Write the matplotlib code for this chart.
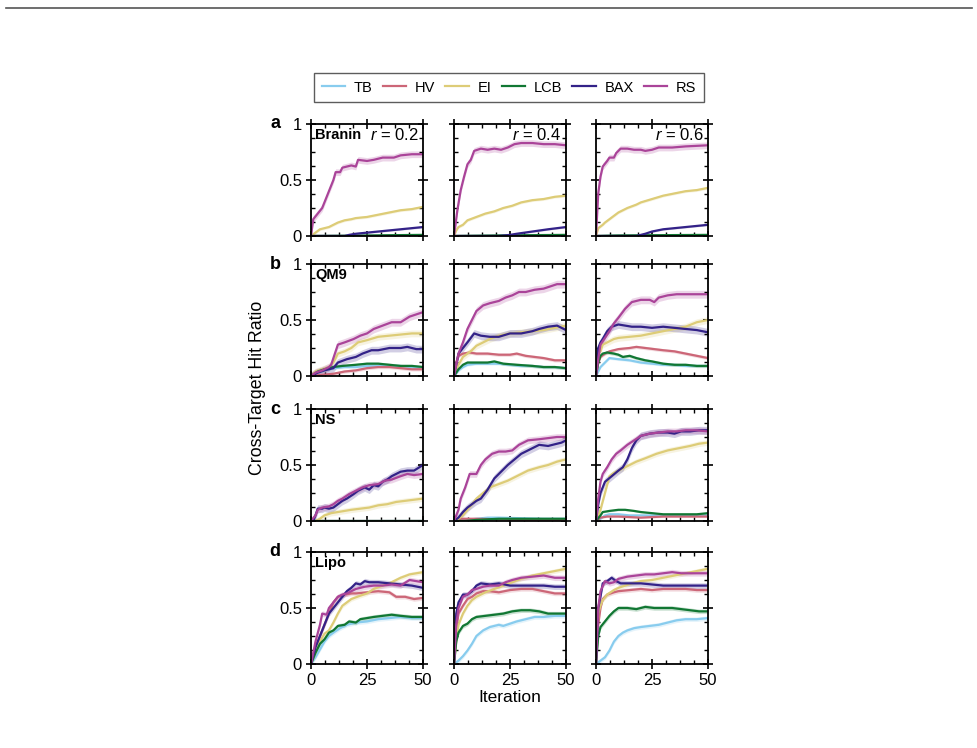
import matplotlib
matplotlib.use("Agg")
import matplotlib.pyplot as plt
from matplotlib.ticker import AutoMinorLocator
from matplotlib.lines import Line2D

plt.rcParams["font.family"] = ["Liberation Sans", "DejaVu Sans"]
plt.rcParams["mathtext.fontset"] = "custom"
plt.rcParams["mathtext.rm"] = "Liberation Sans"
plt.rcParams["mathtext.it"] = "Liberation Sans:italic"

methods = ["TB", "HV", "EI", "LCB", "BAX", "RS"]
colors = ["#88CCEE", "#CC6677", "#DDCC77", "#117733", "#332288", "#AA4499"]
datasets = ["Branin", "QM9", "NS", "Lipo"]
panel_letters = ["a", "b", "c", "d"]
ratios = ["0.2", "0.4", "0.6"]

# (iteration, hit ratio) points
branin_02 = {
    "TB": [(0, 0), (50, 0)],
    "HV": [(0, 0), (50, 0)],
    "EI": [(0, 0), (2, 0.03), (4, 0.06), (6, 0.07), (8, 0.08), (10, 0.1), (12, 0.12), (15, 0.14), (18, 0.15),
           (20, 0.16), (25, 0.17), (30, 0.19), (35, 0.21), (40, 0.23), (45, 0.24), (50, 0.26)],
    "LCB": [(0, 0), (20, 0.003), (35, 0.007), (50, 0.01)],
    "BAX": [(0, 0), (15, 0), (17, 0.01), (20, 0.02), (25, 0.03), (30, 0.04), (35, 0.05), (40, 0.06),
            (45, 0.07), (50, 0.08)],
    "RS": [(0, 0), (1, 0.15), (3, 0.2), (5, 0.25), (6, 0.3), (8, 0.4), (10, 0.5), (11, 0.57), (13, 0.57),
           (14, 0.61), (16, 0.62), (18, 0.63), (20, 0.62), (21, 0.68), (25, 0.67), (28, 0.68), (32, 0.7),
           (37, 0.7), (40, 0.72), (45, 0.73), (50, 0.73)],
}
branin_04 = {
    "TB": [(0, 0), (50, 0)],
    "HV": [(0, 0), (50, 0)],
    "EI": [(0, 0), (1, 0.05), (2, 0.08), (4, 0.1), (6, 0.14), (10, 0.17), (14, 0.2), (18, 0.22), (22, 0.25),
           (26, 0.27), (30, 0.3), (35, 0.32), (40, 0.33), (45, 0.35), (50, 0.36)],
    "LCB": [(0, 0), (20, 0.005), (50, 0.01)],
    "BAX": [(0, 0), (20, 0), (25, 0.01), (28, 0.02), (35, 0.04), (42, 0.06), (50, 0.08)],
    "RS": [(0, 0), (1.5, 0.23), (3, 0.41), (4.5, 0.53), (6, 0.64), (7.5, 0.68), (9, 0.76), (12, 0.78),
           (15, 0.77), (18, 0.78), (21, 0.77), (24, 0.79), (27, 0.82), (30, 0.83), (35, 0.83), (40, 0.82),
           (45, 0.82), (50, 0.81)],
}
branin_06 = {
    "TB": [(0, 0), (50, 0)],
    "HV": [(0, 0), (50, 0)],
    "EI": [(0, 0), (1, 0.07), (3, 0.1), (4, 0.12), (6, 0.15), (8, 0.18), (10, 0.21), (14, 0.25), (18, 0.28),
           (20, 0.3), (25, 0.33), (30, 0.36), (35, 0.38), (40, 0.4), (45, 0.41), (50, 0.43)],
    "LCB": [(0, 0), (10, 0.005), (50, 0.01)],
    "BAX": [(0, 0), (18, 0), (22, 0.02), (25, 0.04), (30, 0.06), (35, 0.07), (40, 0.08), (45, 0.09), (50, 0.1)],
    "RS": [(0, 0), (1, 0.38), (2, 0.53), (3, 0.62), (5, 0.67), (6, 0.7), (8, 0.7), (9, 0.74), (11, 0.78),
           (14, 0.78), (17, 0.77), (20, 0.77), (22, 0.76), (25, 0.77), (28, 0.79), (34, 0.79), (40, 0.8),
           (50, 0.81)],
}

qm9_02 = {
    "TB": [(0, 0), (3, 0.03), (6, 0.05), (10, 0.07), (15, 0.08), (20, 0.08), (25, 0.09), (30, 0.09), (35, 0.09),
           (40, 0.09), (45, 0.08), (50, 0.08)],
    "HV": [(0, 0), (5, 0.01), (10, 0.02), (15, 0.04), (20, 0.05), (25, 0.07), (30, 0.08), (35, 0.08),
           (40, 0.07), (45, 0.06), (50, 0.06)],
    "EI": [(0, 0), (2, 0.04), (5, 0.06), (8, 0.08), (10, 0.12), (12, 0.2), (15, 0.22), (18, 0.25), (21, 0.3),
           (25, 0.32), (30, 0.35), (35, 0.36), (40, 0.37), (45, 0.38), (50, 0.38)],
    "LCB": [(0, 0), (3, 0.04), (6, 0.06), (10, 0.08), (14, 0.09), (20, 0.1), (25, 0.11), (30, 0.11),
            (35, 0.1), (40, 0.09), (45, 0.09), (50, 0.08)],
    "BAX": [(0, 0), (3, 0.03), (6, 0.05), (10, 0.07), (12, 0.12), (16, 0.15), (20, 0.17), (23, 0.2),
            (27, 0.23), (30, 0.23), (35, 0.25), (40, 0.25), (43, 0.26), (47, 0.24), (50, 0.24)],
    "RS": [(0, 0), (2, 0.03), (5, 0.05), (8, 0.08), (9, 0.1), (12, 0.28), (15, 0.3), (19, 0.33), (22, 0.36),
           (25, 0.38), (28, 0.42), (32, 0.45), (36, 0.48), (40, 0.48), (44, 0.53), (47, 0.55), (50, 0.57)],
}
qm9_04 = {
    "TB": [(0, 0), (2, 0.05), (4, 0.08), (6, 0.1), (10, 0.11), (15, 0.11), (20, 0.11), (25, 0.1), (30, 0.09),
           (35, 0.09), (40, 0.08), (45, 0.08), (50, 0.07)],
    "HV": [(0, 0), (1, 0.12), (2, 0.18), (4, 0.2), (7, 0.21), (10, 0.2), (15, 0.2), (20, 0.19), (25, 0.19),
           (28, 0.2), (32, 0.18), (36, 0.17), (40, 0.16), (45, 0.14), (50, 0.14)],
    "EI": [(0, 0), (2, 0.1), (4, 0.17), (6, 0.2), (8, 0.23), (10, 0.27), (13, 0.3), (16, 0.33), (20, 0.36),
           (25, 0.38), (30, 0.39), (35, 0.4), (40, 0.41), (45, 0.43), (50, 0.45)],
    "LCB": [(0, 0), (2, 0.06), (4, 0.1), (6, 0.12), (10, 0.12), (15, 0.12), (18, 0.13), (22, 0.11),
            (28, 0.1), (35, 0.09), (40, 0.08), (45, 0.08), (50, 0.07)],
    "BAX": [(0, 0), (1, 0.1), (2, 0.2), (4, 0.25), (6, 0.3), (9, 0.38), (12, 0.36), (16, 0.35), (20, 0.35),
            (25, 0.38), (30, 0.38), (35, 0.4), (38, 0.42), (42, 0.44), (46, 0.45), (50, 0.41)],
    "RS": [(0, 0), (1, 0.1), (2, 0.2), (4, 0.3), (6, 0.42), (8, 0.5), (10, 0.58), (13, 0.63), (16, 0.65),
           (20, 0.67), (23, 0.7), (26, 0.72), (29, 0.75), (32, 0.75), (36, 0.77), (40, 0.78), (43, 0.8),
           (46, 0.82), (50, 0.82)],
}
qm9_06 = {
    "TB": [(0, 0), (2, 0.08), (4, 0.12), (6, 0.16), (10, 0.15), (15, 0.14), (20, 0.12), (25, 0.11), (30, 0.1),
           (35, 0.1), (40, 0.09), (45, 0.09), (50, 0.09)],
    "HV": [(0, 0), (1, 0.12), (2, 0.17), (4, 0.2), (6, 0.22), (10, 0.24), (15, 0.25), (18, 0.26), (22, 0.25),
           (26, 0.24), (30, 0.23), (35, 0.22), (40, 0.2), (45, 0.18), (50, 0.16)],
    "EI": [(0, 0), (1, 0.2), (2, 0.22), (3, 0.28), (5, 0.3), (8, 0.33), (10, 0.34), (15, 0.35), (20, 0.36),
           (25, 0.38), (30, 0.4), (35, 0.42), (40, 0.44), (45, 0.48), (50, 0.5)],
    "LCB": [(0, 0), (1, 0.12), (2, 0.18), (3, 0.2), (5, 0.21), (8, 0.2), (10, 0.19), (12, 0.17), (15, 0.18),
            (18, 0.16), (22, 0.14), (25, 0.13), (30, 0.11), (35, 0.1), (40, 0.1), (45, 0.09), (50, 0.09)],
    "BAX": [(0, 0), (1, 0.25), (2, 0.3), (3, 0.33), (5, 0.4), (7, 0.44), (10, 0.46), (13, 0.45), (16, 0.44),
            (20, 0.44), (25, 0.43), (30, 0.44), (35, 0.43), (40, 0.42), (45, 0.41), (50, 0.39)],
    "RS": [(0, 0), (1, 0.15), (2, 0.28), (4, 0.34), (6, 0.4), (8, 0.47), (10, 0.52), (13, 0.6), (16, 0.66),
           (20, 0.68), (24, 0.68), (26, 0.66), (28, 0.7), (32, 0.72), (36, 0.73), (40, 0.73), (45, 0.73),
           (50, 0.73)],
}

ns_02 = {
    "TB": [(0, 0), (50, 0)],
    "HV": [(0, 0), (50, 0)],
    "EI": [(0, 0), (2, 0), (4, 0.02), (6, 0.05), (9, 0.07), (12, 0.08), (15, 0.09), (18, 0.1), (22, 0.11),
           (26, 0.12), (30, 0.14), (34, 0.15), (38, 0.17), (42, 0.18), (46, 0.19), (50, 0.2)],
    "LCB": [(0, 0), (50, 0)],
    "BAX": [(0, 0), (1, 0), (2, 0.05), (3, 0.11), (5, 0.11), (6, 0.12), (8, 0.11), (10, 0.12), (12, 0.15),
            (14, 0.18), (16, 0.2), (19, 0.24), (21, 0.27), (24, 0.3), (26, 0.28), (28, 0.32), (30, 0.31),
            (32, 0.35), (34, 0.37), (36, 0.4), (38, 0.42), (40, 0.44), (43, 0.45), (46, 0.45), (50, 0.5)],
    "RS": [(0, 0), (2, 0.05), (3, 0.1), (5, 0.12), (8, 0.13), (10, 0.15), (12, 0.18), (14, 0.2), (17, 0.24),
           (20, 0.27), (23, 0.3), (26, 0.32), (30, 0.33), (33, 0.36), (36, 0.37), (40, 0.4), (43, 0.42),
           (46, 0.41), (50, 0.42)],
}
ns_04 = {
    "TB": [(0, 0), (5, 0.01), (10, 0.02), (15, 0.03), (20, 0.03), (30, 0.025), (40, 0.02), (50, 0.02)],
    "HV": [(0, 0), (3, 0.02), (10, 0.02), (20, 0.015), (30, 0.01), (50, 0.01)],
    "EI": [(0, 0), (2, 0.02), (4, 0.05), (6, 0.1), (8, 0.15), (10, 0.2), (13, 0.25), (16, 0.3), (20, 0.33),
           (24, 0.36), (28, 0.4), (33, 0.45), (38, 0.48), (42, 0.5), (46, 0.53), (50, 0.55)],
    "LCB": [(0, 0), (5, 0), (10, 0.01), (20, 0.02), (50, 0.02)],
    "BAX": [(0, 0), (2, 0.03), (4, 0.08), (6, 0.12), (8, 0.15), (10, 0.18), (12, 0.2), (15, 0.28), (18, 0.38),
            (21, 0.44), (24, 0.5), (27, 0.55), (30, 0.6), (33, 0.63), (36, 0.66), (38, 0.68), (42, 0.67),
            (46, 0.69), (48, 0.7), (50, 0.72)],
    "RS": [(0, 0), (1, 0.05), (2, 0.1), (3, 0.2), (5, 0.3), (7, 0.42), (10, 0.42), (12, 0.5), (14, 0.55),
           (17, 0.6), (20, 0.62), (23, 0.62), (26, 0.63), (29, 0.68), (33, 0.72), (38, 0.73), (42, 0.74),
           (46, 0.75), (50, 0.75)],
}
ns_06 = {
    "TB": [(0, 0), (2, 0.02), (4, 0.05), (6, 0.06), (10, 0.06), (15, 0.05), (20, 0.05), (30, 0.05),
           (40, 0.05), (50, 0.05)],
    "HV": [(0, 0), (2, 0.03), (5, 0.04), (10, 0.04), (15, 0.035), (20, 0.03), (30, 0.04), (40, 0.04), (50, 0.04)],
    "EI": [(0, 0), (2, 0.1), (4, 0.25), (6, 0.4), (8, 0.43), (10, 0.45), (12, 0.47), (15, 0.5), (18, 0.53),
           (22, 0.56), (27, 0.6), (32, 0.63), (37, 0.65), (42, 0.67), (46, 0.69), (50, 0.7)],
    "LCB": [(0, 0), (2, 0.05), (3, 0.08), (6, 0.09), (10, 0.1), (13, 0.1), (17, 0.09), (20, 0.08), (25, 0.07),
            (30, 0.06), (35, 0.06), (40, 0.06), (45, 0.06), (50, 0.07)],
    "BAX": [(0, 0), (1, 0.15), (2, 0.25), (4, 0.35), (7, 0.4), (10, 0.45), (12, 0.48), (14, 0.55), (16, 0.65),
            (18, 0.72), (20, 0.76), (24, 0.78), (28, 0.79), (32, 0.79), (35, 0.78), (38, 0.8), (42, 0.8),
            (46, 0.81), (50, 0.81)],
    "RS": [(0, 0), (1, 0.2), (2, 0.35), (3, 0.42), (5, 0.48), (7, 0.55), (9, 0.6), (11, 0.63), (14, 0.68),
           (17, 0.72), (20, 0.76), (24, 0.78), (28, 0.79), (32, 0.8), (36, 0.8), (40, 0.81), (45, 0.81),
           (50, 0.8)],
}

lipo_02 = {
    "TB": [(0, 0), (2, 0.06), (4, 0.13), (6, 0.2), (8, 0.25), (10, 0.28), (13, 0.32), (16, 0.35), (20, 0.37),
           (25, 0.38), (30, 0.4), (35, 0.41), (40, 0.42), (45, 0.41), (50, 0.41)],
    "HV": [(0, 0), (2, 0.15), (5, 0.3), (8, 0.45), (10, 0.55), (12, 0.6), (15, 0.62), (18, 0.63), (20, 0.63),
           (25, 0.64), (30, 0.65), (35, 0.64), (38, 0.6), (42, 0.6), (46, 0.58), (50, 0.59)],
    "EI": [(0, 0), (2, 0.1), (4, 0.2), (6, 0.27), (8, 0.3), (10, 0.37), (12, 0.45), (14, 0.52), (16, 0.55),
           (18, 0.58), (22, 0.61), (25, 0.63), (28, 0.67), (32, 0.7), (35, 0.72), (38, 0.75), (40, 0.77),
           (44, 0.8), (47, 0.81), (50, 0.82)],
    "LCB": [(0, 0), (2, 0.1), (4, 0.18), (6, 0.22), (8, 0.28), (10, 0.3), (12, 0.34), (15, 0.35), (17, 0.38),
            (20, 0.37), (22, 0.4), (25, 0.41), (28, 0.42), (32, 0.43), (36, 0.44), (40, 0.43), (45, 0.42),
            (50, 0.42)],
    "BAX": [(0, 0), (2, 0.15), (4, 0.25), (6, 0.35), (8, 0.45), (10, 0.5), (12, 0.55), (14, 0.6), (16, 0.65),
            (18, 0.68), (20, 0.72), (22, 0.71), (24, 0.74), (26, 0.73), (30, 0.73), (35, 0.72), (40, 0.71),
            (45, 0.7), (50, 0.68)],
    "RS": [(0, 0), (2, 0.2), (4, 0.35), (5, 0.45), (7, 0.44), (8, 0.5), (10, 0.55), (12, 0.6), (14, 0.62),
           (16, 0.63), (18, 0.65), (20, 0.67), (24, 0.69), (28, 0.7), (32, 0.7), (36, 0.71), (40, 0.7),
           (44, 0.75), (47, 0.74), (50, 0.73)],
}
lipo_04 = {
    "TB": [(0, 0), (2, 0.03), (4, 0.07), (6, 0.12), (8, 0.18), (10, 0.25), (13, 0.3), (16, 0.33), (18, 0.34),
           (20, 0.35), (22, 0.34), (25, 0.36), (28, 0.38), (32, 0.4), (36, 0.42), (40, 0.42), (45, 0.43),
           (50, 0.43)],
    "HV": [(0, 0), (1, 0.3), (2, 0.45), (4, 0.52), (6, 0.58), (8, 0.6), (10, 0.63), (13, 0.65), (16, 0.65),
           (20, 0.64), (25, 0.66), (30, 0.67), (35, 0.67), (40, 0.65), (45, 0.63), (50, 0.63)],
    "EI": [(0, 0), (1, 0.2), (2, 0.35), (4, 0.45), (6, 0.52), (8, 0.57), (10, 0.6), (14, 0.64), (18, 0.67),
           (22, 0.7), (26, 0.73), (30, 0.76), (35, 0.79), (40, 0.81), (45, 0.83), (50, 0.85)],
    "LCB": [(0, 0), (1, 0.2), (2, 0.28), (4, 0.34), (6, 0.36), (8, 0.4), (10, 0.42), (14, 0.43), (18, 0.44),
            (22, 0.45), (26, 0.47), (30, 0.48), (34, 0.48), (38, 0.47), (42, 0.45), (46, 0.45), (50, 0.45)],
    "BAX": [(0, 0), (1, 0.45), (2, 0.55), (4, 0.62), (6, 0.62), (8, 0.65), (10, 0.7), (12, 0.72), (16, 0.71),
            (20, 0.72), (25, 0.7), (30, 0.7), (35, 0.7), (40, 0.7), (45, 0.69), (50, 0.69)],
    "RS": [(0, 0), (1, 0.35), (2, 0.5), (4, 0.6), (6, 0.62), (8, 0.66), (10, 0.67), (13, 0.69), (16, 0.7),
           (20, 0.7), (23, 0.73), (26, 0.75), (30, 0.77), (35, 0.78), (40, 0.79), (45, 0.77), (50, 0.77)],
}
lipo_06 = {
    "TB": [(0, 0), (2, 0.03), (4, 0.06), (6, 0.12), (8, 0.2), (10, 0.25), (12, 0.28), (14, 0.3), (17, 0.32),
           (20, 0.33), (24, 0.34), (28, 0.35), (32, 0.37), (36, 0.39), (40, 0.4), (45, 0.4), (50, 0.41)],
    "HV": [(0, 0), (1, 0.35), (2, 0.5), (3, 0.58), (5, 0.62), (8, 0.64), (10, 0.65), (15, 0.66), (20, 0.67),
           (25, 0.66), (30, 0.67), (35, 0.67), (40, 0.67), (45, 0.66), (50, 0.66)],
    "EI": [(0, 0), (1, 0.45), (2, 0.52), (3, 0.57), (5, 0.62), (8, 0.66), (10, 0.68), (13, 0.7), (16, 0.72),
           (20, 0.74), (25, 0.75), (30, 0.77), (35, 0.79), (40, 0.81), (45, 0.83), (50, 0.85)],
    "LCB": [(0, 0), (1, 0.25), (2, 0.33), (4, 0.38), (6, 0.43), (8, 0.47), (10, 0.5), (14, 0.5), (18, 0.49),
            (22, 0.51), (26, 0.5), (30, 0.5), (34, 0.5), (38, 0.49), (42, 0.48), (46, 0.47), (50, 0.47)],
    "BAX": [(0, 0), (1, 0.5), (2, 0.6), (3, 0.72), (5, 0.74), (7, 0.77), (9, 0.74), (11, 0.72), (15, 0.72),
            (20, 0.72), (25, 0.71), (30, 0.7), (35, 0.7), (40, 0.7), (45, 0.7), (50, 0.7)],
    "RS": [(0, 0), (1, 0.5), (2, 0.65), (4, 0.74), (6, 0.72), (8, 0.73), (10, 0.76), (14, 0.78), (18, 0.79),
           (22, 0.8), (26, 0.8), (30, 0.81), (34, 0.82), (38, 0.81), (42, 0.81), (46, 0.81), (50, 0.81)],
}

panels = [
    [branin_02, branin_04, branin_06],
    [qm9_02, qm9_04, qm9_06],
    [ns_02, ns_04, ns_06],
    [lipo_02, lipo_04, lipo_06],
]

# half-width of the shaded band, per dataset, in the order of `methods`
band = {
    "Branin": [0.005, 0.005, 0.012, 0.005, 0.008, 0.03],
    "QM9": [0.012, 0.015, 0.03, 0.015, 0.035, 0.035],
    "NS": [0.008, 0.008, 0.025, 0.008, 0.035, 0.03],
    "Lipo": [0.02, 0.02, 0.02, 0.02, 0.025, 0.025],
}

W, H = 978, 748
fig = plt.figure(figsize=(W / 100, H / 100), dpi=100)

col_left = [311, 454, 596]
row_top = [124, 264, 409, 552]
aw, ah = 112, 112

for i, ds in enumerate(datasets):
    for j in range(3):
        ax = fig.add_axes([col_left[j] / W, 1 - (row_top[i] + ah) / H, aw / W, ah / H])
        data = panels[i][j]
        for k, m in enumerate(methods):
            xs = [p[0] for p in data[m]]
            ys = [p[1] for p in data[m]]
            lo = [y - band[ds][k] for y in ys]
            hi = [y + band[ds][k] for y in ys]
            ax.fill_between(xs, lo, hi, color=colors[k], alpha=0.22, lw=0)
            ax.plot(xs, ys, color=colors[k], lw=1.6, label=m if (i == 0 and j == 0) else None)
        ax.set_xlim(0, 50)
        ax.set_ylim(0, 1)
        ax.set_xticks([0, 25, 50])
        ax.set_yticks([0, 0.5, 1])
        ax.set_yticklabels(["0", "0.5", "1"])
        ax.xaxis.set_minor_locator(AutoMinorLocator(4))
        ax.yaxis.set_minor_locator(AutoMinorLocator(4))
        ax.tick_params(which="major", direction="inout", length=7, width=1.2, top=True, right=True,
                       labelsize=12, pad=3, labelleft=(j == 0), labelbottom=(i == 3))
        ax.tick_params(which="minor", direction="in", length=3, width=1.0, top=True, right=True)
        for s in ax.spines.values():
            s.set_linewidth(1.3)
        if j == 0:
            ax.text(0.04, 0.9, ds, transform=ax.transAxes, fontsize=10.5, fontweight="bold",
                    ha="left", va="center")
            ax.text(-0.32, 1.0, panel_letters[i], transform=ax.transAxes, fontsize=13,
                    fontweight="bold", ha="center", va="center")
        if i == 0:
            ax.text(0.96, 0.9, "$r$ = " + ratios[j], transform=ax.transAxes, fontsize=12,
                    ha="right", va="center")

handles, labels = fig.axes[0].get_legend_handles_labels()
fig.legend(handles, labels, loc="center", ncol=6, mode="expand",
           bbox_to_anchor=(307 / W, 1 - 102 / H, 404 / W, 29 / H), frameon=True, fancybox=False,
           edgecolor="#333333", fontsize=10.5, handlelength=1.6, handletextpad=0.6, borderpad=0.5)

fig.text(258 / W, 1 - 388 / H, "Cross-Target Hit Ratio", rotation=90, ha="center", va="center", fontsize=12.8)
fig.text(510 / W, 1 - 697 / H, "Iteration", ha="center", va="center", fontsize=12.5)

fig.add_artist(Line2D([6 / W, 972 / W], [1 - 8 / H, 1 - 8 / H], color="#555555", lw=1.2))

fig.savefig("out.png", dpi=100)
